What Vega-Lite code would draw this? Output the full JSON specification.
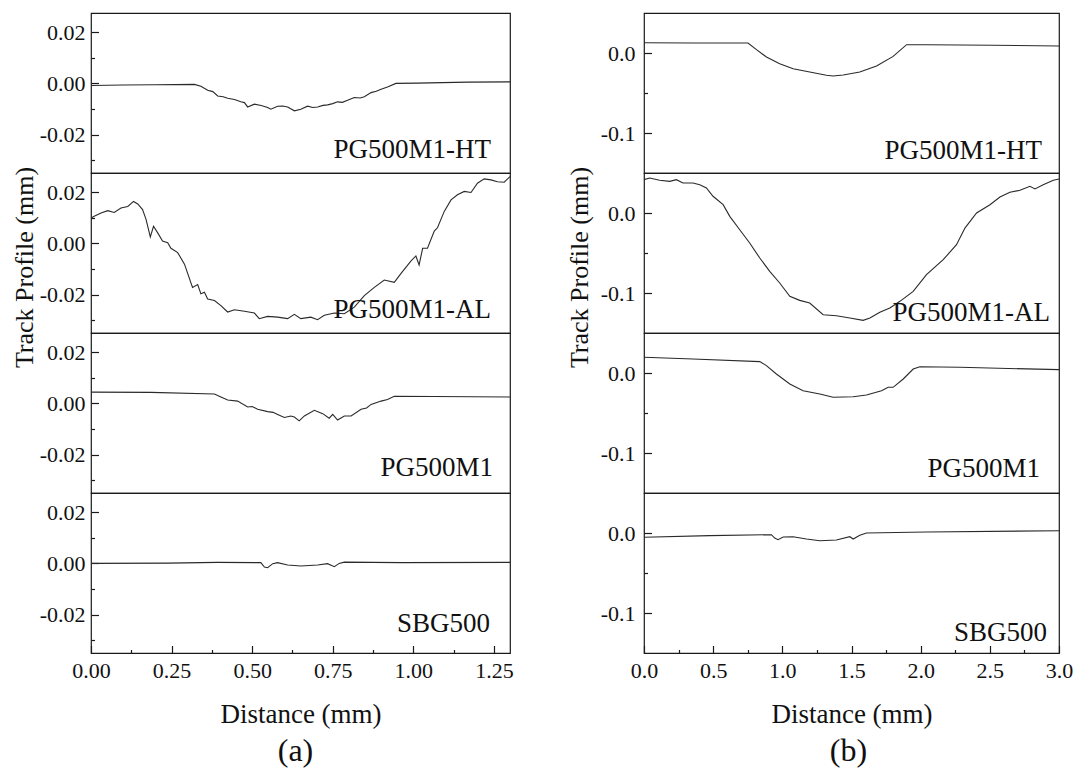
{
  "$schema": "https://vega.github.io/schema/vega-lite/v6.json",
  "padding": {"left": 10, "top": 12, "right": 5, "bottom": 2},
  "config": {
    "font": "Liberation Serif",
    "view": {"stroke": "#1a1a1a", "strokeWidth": 1.2},
    "axis": {"grid": false, "domain": false, "tickCount": 40, "labelFont": "Liberation Serif", "titleFont": "Liberation Serif", "labelFontSize": 22, "titleFontSize": 26, "titleFontWeight": "normal", "labelColor": "#111", "titleColor": "#111", "tickColor": "#1a1a1a", "tickWidth": 1.2, "labelOverlap": false, "labelFlush": false, "labelBound": false},
    "text": {"font": "Liberation Serif"},
    "title": {"font": "Liberation Serif", "fontWeight": "normal", "color": "#111"}
  },
  "datasets": {
    "a": [
      {"s":"PG500M1-HT","x":0,"y":-0.0008},{"s":"PG500M1-HT","x":0.1,"y":-0.0006},{"s":"PG500M1-HT","x":0.2,"y":-0.0005},{"s":"PG500M1-HT","x":0.321,"y":-0.0004},{"s":"PG500M1-HT","x":0.341,"y":-0.0011},{"s":"PG500M1-HT","x":0.362,"y":-0.0027},{"s":"PG500M1-HT","x":0.378,"y":-0.0032},{"s":"PG500M1-HT","x":0.393,"y":-0.0049},{"s":"PG500M1-HT","x":0.41,"y":-0.0052},{"s":"PG500M1-HT","x":0.424,"y":-0.0058},{"s":"PG500M1-HT","x":0.445,"y":-0.0063},{"s":"PG500M1-HT","x":0.465,"y":-0.0072},{"s":"PG500M1-HT","x":0.476,"y":-0.0075},{"s":"PG500M1-HT","x":0.486,"y":-0.0092},{"s":"PG500M1-HT","x":0.507,"y":-0.0081},{"s":"PG500M1-HT","x":0.528,"y":-0.0086},{"s":"PG500M1-HT","x":0.548,"y":-0.0094},{"s":"PG500M1-HT","x":0.558,"y":-0.0101},{"s":"PG500M1-HT","x":0.579,"y":-0.0089},{"s":"PG500M1-HT","x":0.595,"y":-0.0088},{"s":"PG500M1-HT","x":0.61,"y":-0.0092},{"s":"PG500M1-HT","x":0.631,"y":-0.0107},{"s":"PG500M1-HT","x":0.651,"y":-0.0101},{"s":"PG500M1-HT","x":0.672,"y":-0.0089},{"s":"PG500M1-HT","x":0.688,"y":-0.0094},{"s":"PG500M1-HT","x":0.703,"y":-0.0092},{"s":"PG500M1-HT","x":0.72,"y":-0.0086},{"s":"PG500M1-HT","x":0.734,"y":-0.0084},{"s":"PG500M1-HT","x":0.75,"y":-0.0079},{"s":"PG500M1-HT","x":0.765,"y":-0.0072},{"s":"PG500M1-HT","x":0.78,"y":-0.0074},{"s":"PG500M1-HT","x":0.796,"y":-0.0066},{"s":"PG500M1-HT","x":0.817,"y":-0.0055},{"s":"PG500M1-HT","x":0.835,"y":-0.0057},{"s":"PG500M1-HT","x":0.848,"y":-0.0052},{"s":"PG500M1-HT","x":0.869,"y":-0.0036},{"s":"PG500M1-HT","x":0.885,"y":-0.0031},{"s":"PG500M1-HT","x":0.9,"y":-0.0023},{"s":"PG500M1-HT","x":0.92,"y":-0.0014},{"s":"PG500M1-HT","x":0.946,"y":0.0},{"s":"PG500M1-HT","x":1.013,"y":0.0001},{"s":"PG500M1-HT","x":1.168,"y":0.0005},{"s":"PG500M1-HT","x":1.3,"y":0.0006},
      {"s":"PG500M1-AL","x":0,"y":0.0099},{"s":"PG500M1-AL","x":0.01,"y":0.0106},{"s":"PG500M1-AL","x":0.031,"y":0.0119},{"s":"PG500M1-AL","x":0.052,"y":0.0128},{"s":"PG500M1-AL","x":0.072,"y":0.0121},{"s":"PG500M1-AL","x":0.093,"y":0.0138},{"s":"PG500M1-AL","x":0.114,"y":0.0144},{"s":"PG500M1-AL","x":0.132,"y":0.0164},{"s":"PG500M1-AL","x":0.145,"y":0.0154},{"s":"PG500M1-AL","x":0.16,"y":0.0132},{"s":"PG500M1-AL","x":0.171,"y":0.0093},{"s":"PG500M1-AL","x":0.184,"y":0.0025},{"s":"PG500M1-AL","x":0.194,"y":0.0067},{"s":"PG500M1-AL","x":0.207,"y":0.0041},{"s":"PG500M1-AL","x":0.222,"y":0.0009},{"s":"PG500M1-AL","x":0.238,"y":0.0003},{"s":"PG500M1-AL","x":0.248,"y":-0.0019},{"s":"PG500M1-AL","x":0.269,"y":-0.0036},{"s":"PG500M1-AL","x":0.29,"y":-0.0081},{"s":"PG500M1-AL","x":0.315,"y":-0.0172},{"s":"PG500M1-AL","x":0.331,"y":-0.0161},{"s":"PG500M1-AL","x":0.341,"y":-0.0197},{"s":"PG500M1-AL","x":0.352,"y":-0.0191},{"s":"PG500M1-AL","x":0.362,"y":-0.0217},{"s":"PG500M1-AL","x":0.383,"y":-0.0223},{"s":"PG500M1-AL","x":0.403,"y":-0.0243},{"s":"PG500M1-AL","x":0.424,"y":-0.0268},{"s":"PG500M1-AL","x":0.445,"y":-0.0259},{"s":"PG500M1-AL","x":0.476,"y":-0.0265},{"s":"PG500M1-AL","x":0.507,"y":-0.0272},{"s":"PG500M1-AL","x":0.522,"y":-0.0294},{"s":"PG500M1-AL","x":0.548,"y":-0.0285},{"s":"PG500M1-AL","x":0.579,"y":-0.0288},{"s":"PG500M1-AL","x":0.61,"y":-0.0294},{"s":"PG500M1-AL","x":0.631,"y":-0.0277},{"s":"PG500M1-AL","x":0.651,"y":-0.0294},{"s":"PG500M1-AL","x":0.682,"y":-0.0288},{"s":"PG500M1-AL","x":0.703,"y":-0.0298},{"s":"PG500M1-AL","x":0.724,"y":-0.0281},{"s":"PG500M1-AL","x":0.755,"y":-0.0272},{"s":"PG500M1-AL","x":0.786,"y":-0.0275},{"s":"PG500M1-AL","x":0.817,"y":-0.0249},{"s":"PG500M1-AL","x":0.848,"y":-0.0204},{"s":"PG500M1-AL","x":0.879,"y":-0.0172},{"s":"PG500M1-AL","x":0.91,"y":-0.0143},{"s":"PG500M1-AL","x":0.941,"y":-0.0152},{"s":"PG500M1-AL","x":0.962,"y":-0.0117},{"s":"PG500M1-AL","x":0.993,"y":-0.0068},{"s":"PG500M1-AL","x":1.008,"y":-0.0049},{"s":"PG500M1-AL","x":1.018,"y":-0.0084},{"s":"PG500M1-AL","x":1.029,"y":-0.0019},{"s":"PG500M1-AL","x":1.044,"y":-0.0019},{"s":"PG500M1-AL","x":1.065,"y":0.0048},{"s":"PG500M1-AL","x":1.075,"y":0.0061},{"s":"PG500M1-AL","x":1.096,"y":0.0125},{"s":"PG500M1-AL","x":1.117,"y":0.017},{"s":"PG500M1-AL","x":1.137,"y":0.019},{"s":"PG500M1-AL","x":1.158,"y":0.0203},{"s":"PG500M1-AL","x":1.179,"y":0.0199},{"s":"PG500M1-AL","x":1.199,"y":0.0235},{"s":"PG500M1-AL","x":1.22,"y":0.0252},{"s":"PG500M1-AL","x":1.241,"y":0.0248},{"s":"PG500M1-AL","x":1.261,"y":0.0241},{"s":"PG500M1-AL","x":1.282,"y":0.0239},{"s":"PG500M1-AL","x":1.3,"y":0.0261},
      {"s":"PG500M1","x":0,"y":0.0044},{"s":"PG500M1","x":0.186,"y":0.0043},{"s":"PG500M1","x":0.383,"y":0.0037},{"s":"PG500M1","x":0.403,"y":0.0025},{"s":"PG500M1","x":0.424,"y":0.0013},{"s":"PG500M1","x":0.455,"y":0.0009},{"s":"PG500M1","x":0.486,"y":-0.0014},{"s":"PG500M1","x":0.5,"y":-0.0012},{"s":"PG500M1","x":0.517,"y":-0.0023},{"s":"PG500M1","x":0.548,"y":-0.0032},{"s":"PG500M1","x":0.565,"y":-0.0035},{"s":"PG500M1","x":0.579,"y":-0.0043},{"s":"PG500M1","x":0.6,"y":-0.0055},{"s":"PG500M1","x":0.62,"y":-0.0049},{"s":"PG500M1","x":0.631,"y":-0.0053},{"s":"PG500M1","x":0.646,"y":-0.0068},{"s":"PG500M1","x":0.662,"y":-0.0049},{"s":"PG500M1","x":0.693,"y":-0.0027},{"s":"PG500M1","x":0.719,"y":-0.004},{"s":"PG500M1","x":0.739,"y":-0.0058},{"s":"PG500M1","x":0.75,"y":-0.0043},{"s":"PG500M1","x":0.765,"y":-0.0065},{"s":"PG500M1","x":0.786,"y":-0.0049},{"s":"PG500M1","x":0.807,"y":-0.0049},{"s":"PG500M1","x":0.838,"y":-0.0023},{"s":"PG500M1","x":0.855,"y":-0.0018},{"s":"PG500M1","x":0.869,"y":-0.0004},{"s":"PG500M1","x":0.9,"y":0.0009},{"s":"PG500M1","x":0.92,"y":0.0015},{"s":"PG500M1","x":0.941,"y":0.0028},{"s":"PG500M1","x":1.065,"y":0.0027},{"s":"PG500M1","x":1.3,"y":0.0025},
      {"s":"SBG500","x":0,"y":0.0},{"s":"SBG500","x":0.238,"y":0.0001},{"s":"SBG500","x":0.393,"y":0.0004},{"s":"SBG500","x":0.527,"y":0.0003},{"s":"SBG500","x":0.538,"y":-0.0014},{"s":"SBG500","x":0.548,"y":-0.0017},{"s":"SBG500","x":0.564,"y":-0.0001},{"s":"SBG500","x":0.579,"y":0.0003},{"s":"SBG500","x":0.61,"y":-0.0006},{"s":"SBG500","x":0.651,"y":-0.001},{"s":"SBG500","x":0.703,"y":-0.0006},{"s":"SBG500","x":0.734,"y":-0.0001},{"s":"SBG500","x":0.755,"y":-0.0013},{"s":"SBG500","x":0.77,"y":0.0},{"s":"SBG500","x":0.786,"y":0.0005},{"s":"SBG500","x":0.962,"y":0.0003},{"s":"SBG500","x":1.3,"y":0.0004}
    ],
    "b": [
      {"s":"PG500M1-HT","x":0,"y":0.0129},{"s":"PG500M1-HT","x":0.354,"y":0.0125},{"s":"PG500M1-HT","x":0.752,"y":0.0125},{"s":"PG500M1-HT","x":0.813,"y":0.0042},{"s":"PG500M1-HT","x":0.885,"y":-0.005},{"s":"PG500M1-HT","x":0.981,"y":-0.0133},{"s":"PG500M1-HT","x":1.078,"y":-0.0196},{"s":"PG500M1-HT","x":1.198,"y":-0.0238},{"s":"PG500M1-HT","x":1.319,"y":-0.0279},{"s":"PG500M1-HT","x":1.367,"y":-0.0288},{"s":"PG500M1-HT","x":1.44,"y":-0.0275},{"s":"PG500M1-HT","x":1.56,"y":-0.0238},{"s":"PG500M1-HT","x":1.681,"y":-0.0163},{"s":"PG500M1-HT","x":1.801,"y":-0.0042},{"s":"PG500M1-HT","x":1.898,"y":0.0104},{"s":"PG500M1-HT","x":2.042,"y":0.0104},{"s":"PG500M1-HT","x":2.525,"y":0.0096},{"s":"PG500M1-HT","x":3.0,"y":0.0088},
      {"s":"PG500M1-AL","x":0,"y":0.0417},{"s":"PG500M1-AL","x":0.041,"y":0.0438},{"s":"PG500M1-AL","x":0.113,"y":0.0409},{"s":"PG500M1-AL","x":0.186,"y":0.0396},{"s":"PG500M1-AL","x":0.234,"y":0.0417},{"s":"PG500M1-AL","x":0.282,"y":0.0375},{"s":"PG500M1-AL","x":0.354,"y":0.0375},{"s":"PG500M1-AL","x":0.403,"y":0.0354},{"s":"PG500M1-AL","x":0.451,"y":0.0313},{"s":"PG500M1-AL","x":0.499,"y":0.0209},{"s":"PG500M1-AL","x":0.572,"y":0.0104},{"s":"PG500M1-AL","x":0.62,"y":-0.0042},{"s":"PG500M1-AL","x":0.692,"y":-0.0209},{"s":"PG500M1-AL","x":0.764,"y":-0.0375},{"s":"PG500M1-AL","x":0.837,"y":-0.0563},{"s":"PG500M1-AL","x":0.909,"y":-0.0729},{"s":"PG500M1-AL","x":0.981,"y":-0.0875},{"s":"PG500M1-AL","x":1.054,"y":-0.1042},{"s":"PG500M1-AL","x":1.126,"y":-0.1092},{"s":"PG500M1-AL","x":1.198,"y":-0.1125},{"s":"PG500M1-AL","x":1.295,"y":-0.1271},{"s":"PG500M1-AL","x":1.391,"y":-0.1284},{"s":"PG500M1-AL","x":1.488,"y":-0.1313},{"s":"PG500M1-AL","x":1.584,"y":-0.1342},{"s":"PG500M1-AL","x":1.633,"y":-0.1313},{"s":"PG500M1-AL","x":1.705,"y":-0.1242},{"s":"PG500M1-AL","x":1.777,"y":-0.1188},{"s":"PG500M1-AL","x":1.85,"y":-0.1104},{"s":"PG500M1-AL","x":1.946,"y":-0.0979},{"s":"PG500M1-AL","x":2.042,"y":-0.0771},{"s":"PG500M1-AL","x":2.163,"y":-0.0584},{"s":"PG500M1-AL","x":2.259,"y":-0.0396},{"s":"PG500M1-AL","x":2.32,"y":-0.0188},{"s":"PG500M1-AL","x":2.404,"y":0.0},{"s":"PG500M1-AL","x":2.501,"y":0.0104},{"s":"PG500M1-AL","x":2.573,"y":0.02},{"s":"PG500M1-AL","x":2.645,"y":0.0259},{"s":"PG500M1-AL","x":2.718,"y":0.0284},{"s":"PG500M1-AL","x":2.79,"y":0.0334},{"s":"PG500M1-AL","x":2.826,"y":0.03},{"s":"PG500M1-AL","x":2.886,"y":0.0354},{"s":"PG500M1-AL","x":2.959,"y":0.0409},{"s":"PG500M1-AL","x":3.0,"y":0.0425},
      {"s":"PG500M1","x":0,"y":0.0196},{"s":"PG500M1","x":0.354,"y":0.0175},{"s":"PG500M1","x":0.837,"y":0.0142},{"s":"PG500M1","x":0.885,"y":0.0092},{"s":"PG500M1","x":0.957,"y":-0.0013},{"s":"PG500M1","x":1.054,"y":-0.0138},{"s":"PG500M1","x":1.15,"y":-0.0221},{"s":"PG500M1","x":1.271,"y":-0.0263},{"s":"PG500M1","x":1.367,"y":-0.0304},{"s":"PG500M1","x":1.512,"y":-0.0296},{"s":"PG500M1","x":1.608,"y":-0.0275},{"s":"PG500M1","x":1.717,"y":-0.0221},{"s":"PG500M1","x":1.765,"y":-0.0179},{"s":"PG500M1","x":1.801,"y":-0.0179},{"s":"PG500M1","x":1.874,"y":-0.0075},{"s":"PG500M1","x":1.946,"y":0.005},{"s":"PG500M1","x":1.994,"y":0.0079},{"s":"PG500M1","x":2.284,"y":0.0071},{"s":"PG500M1","x":3.0,"y":0.0042},
      {"s":"SBG500","x":0,"y":-0.0054},{"s":"SBG500","x":0.475,"y":-0.0033},{"s":"SBG500","x":0.921,"y":-0.0021},{"s":"SBG500","x":0.945,"y":-0.0063},{"s":"SBG500","x":0.969,"y":-0.0083},{"s":"SBG500","x":1.006,"y":-0.005},{"s":"SBG500","x":1.078,"y":-0.0046},{"s":"SBG500","x":1.174,"y":-0.0075},{"s":"SBG500","x":1.271,"y":-0.0096},{"s":"SBG500","x":1.391,"y":-0.0088},{"s":"SBG500","x":1.488,"y":-0.0046},{"s":"SBG500","x":1.512,"y":-0.0075},{"s":"SBG500","x":1.56,"y":-0.0029},{"s":"SBG500","x":1.608,"y":0.0},{"s":"SBG500","x":2.042,"y":0.0013},{"s":"SBG500","x":3.0,"y":0.0029}
    ]
  },
  "spacing": 51,
  "hconcat": [
    {
      "spacing": 0,
      "bounds": "flush",
      "resolve": {"scale": {"x": "independent", "y": "independent"}},
      "vconcat": [
        {
          "width": 419, "height": 160,
          "data": {"name": "a"},
          "transform": [{"filter": "datum.s === 'PG500M1-HT'"}],
          "layer": [
            {"mark": {"type": "line", "stroke": "#2a2a2a", "strokeWidth": 1.1},
             "encoding": {
               "x": {"field": "x", "type": "quantitative", "scale": {"domain": [0, 1.3], "nice": false, "zero": false}, "axis": null},
               "y": {"field": "y", "type": "quantitative", "scale": {"domain": [-0.035, 0.0275], "nice": false, "zero": false},
                     "axis": {"title": null, "tickCount": 40, "labelOverlap": false, "values": [-0.03,-0.02,-0.01,0,0.01,0.02], "labelExpr": "abs(datum.value*50 - round(datum.value*50)) < 0.1 ? (datum.value < 0 ? '-' + format(-datum.value, '.2f') : format(datum.value, '.2f')) : ''", "tickSize": {"condition": {"test": "abs(datum.value*50 - round(datum.value*50)) < 0.1", "value": -7.5}, "value": -3.5}, "labelPadding": 13.5}}
             }},
            {"transform": [{"aggregate": [{"op": "count", "as": "n"}], "groupby": ["s"]}],
             "mark": {"type": "text", "align": "right", "baseline": "alphabetic", "fontSize": 27, "color": "#111"},
             "encoding": {"x": {"datum": 1.241}, "y": {"datum": -0.0291}, "text": {"field": "s"}}}
          ]
        },
        {
          "width": 419, "height": 160,
          "data": {"name": "a"},
          "transform": [{"filter": "datum.s === 'PG500M1-AL'"}],
          "layer": [
            {"mark": {"type": "line", "stroke": "#2a2a2a", "strokeWidth": 1.1},
             "encoding": {
               "x": {"field": "x", "type": "quantitative", "scale": {"domain": [0, 1.3], "nice": false, "zero": false}, "axis": null},
               "y": {"field": "y", "type": "quantitative", "scale": {"domain": [-0.035, 0.0275], "nice": false, "zero": false},
                     "axis": {"title": "Track Profile (mm)", "titleY": 94, "titlePadding": 2, "tickCount": 40, "labelOverlap": false, "values": [-0.03,-0.02,-0.01,0,0.01,0.02], "labelExpr": "abs(datum.value*50 - round(datum.value*50)) < 0.1 ? (datum.value < 0 ? '-' + format(-datum.value, '.2f') : format(datum.value, '.2f')) : ''", "tickSize": {"condition": {"test": "abs(datum.value*50 - round(datum.value*50)) < 0.1", "value": -7.5}, "value": -3.5}, "labelPadding": 13.5}}
             }},
            {"transform": [{"aggregate": [{"op": "count", "as": "n"}], "groupby": ["s"]}],
             "mark": {"type": "text", "align": "right", "baseline": "alphabetic", "fontSize": 27, "color": "#111"},
             "encoding": {"x": {"datum": 1.241}, "y": {"datum": -0.0291}, "text": {"field": "s"}}}
          ]
        },
        {
          "width": 419, "height": 160,
          "data": {"name": "a"},
          "transform": [{"filter": "datum.s === 'PG500M1'"}],
          "layer": [
            {"mark": {"type": "line", "stroke": "#2a2a2a", "strokeWidth": 1.1},
             "encoding": {
               "x": {"field": "x", "type": "quantitative", "scale": {"domain": [0, 1.3], "nice": false, "zero": false}, "axis": null},
               "y": {"field": "y", "type": "quantitative", "scale": {"domain": [-0.035, 0.0275], "nice": false, "zero": false},
                     "axis": {"title": null, "tickCount": 40, "labelOverlap": false, "values": [-0.03,-0.02,-0.01,0,0.01,0.02], "labelExpr": "abs(datum.value*50 - round(datum.value*50)) < 0.1 ? (datum.value < 0 ? '-' + format(-datum.value, '.2f') : format(datum.value, '.2f')) : ''", "tickSize": {"condition": {"test": "abs(datum.value*50 - round(datum.value*50)) < 0.1", "value": -7.5}, "value": -3.5}, "labelPadding": 13.5}}
             }},
            {"transform": [{"aggregate": [{"op": "count", "as": "n"}], "groupby": ["s"]}],
             "mark": {"type": "text", "align": "right", "baseline": "alphabetic", "fontSize": 27, "color": "#111"},
             "encoding": {"x": {"datum": 1.247}, "y": {"datum": -0.0284}, "text": {"field": "s"}}}
          ]
        },
        {
          "width": 419, "height": 160,
          "data": {"name": "a"},
          "transform": [{"filter": "datum.s === 'SBG500'"}],
          "title": {"text": "(a)", "orient": "bottom", "fontSize": 32, "offset": 8, "frame": "group", "anchor": "middle", "dx": -5},
          "layer": [
            {"mark": {"type": "line", "stroke": "#2a2a2a", "strokeWidth": 1.1},
             "encoding": {
               "x": {"field": "x", "type": "quantitative", "scale": {"domain": [0, 1.3], "nice": false, "zero": false},
                     "axis": {"title": "Distance (mm)", "titleFontSize": 27, "titlePadding": 16, "tickCount": 40, "labelOverlap": false, "values": [0,0.125,0.25,0.375,0.5,0.625,0.75,0.875,1,1.125,1.25], "labelExpr": "round(datum.value*8) % 2 === 0 ? format(datum.value, '.2f') : ''", "tickSize": {"condition": {"test": "round(datum.value*8) % 2 === 0", "value": -7.5}, "value": -3.5}, "labelPadding": 15}},
               "y": {"field": "y", "type": "quantitative", "scale": {"domain": [-0.035, 0.0275], "nice": false, "zero": false},
                     "axis": {"title": null, "tickCount": 40, "labelOverlap": false, "values": [-0.03,-0.02,-0.01,0,0.01,0.02], "labelExpr": "abs(datum.value*50 - round(datum.value*50)) < 0.1 ? (datum.value < 0 ? '-' + format(-datum.value, '.2f') : format(datum.value, '.2f')) : ''", "tickSize": {"condition": {"test": "abs(datum.value*50 - round(datum.value*50)) < 0.1", "value": -7.5}, "value": -3.5}, "labelPadding": 13.5}}
             }},
            {"transform": [{"aggregate": [{"op": "count", "as": "n"}], "groupby": ["s"]}],
             "mark": {"type": "text", "align": "right", "baseline": "alphabetic", "fontSize": 27, "color": "#111"},
             "encoding": {"x": {"datum": 1.238}, "y": {"datum": -0.0268}, "text": {"field": "s"}}}
          ]
        }
      ]
    },
    {
      "spacing": 0,
      "bounds": "flush",
      "resolve": {"scale": {"x": "independent", "y": "independent"}},
      "vconcat": [
        {
          "width": 415, "height": 160,
          "data": {"name": "b"},
          "transform": [{"filter": "datum.s === 'PG500M1-HT'"}],
          "layer": [
            {"mark": {"type": "line", "stroke": "#2a2a2a", "strokeWidth": 1.1},
             "encoding": {
               "x": {"field": "x", "type": "quantitative", "scale": {"domain": [0, 3], "nice": false, "zero": false}, "axis": null},
               "y": {"field": "y", "type": "quantitative", "scale": {"domain": [-0.15, 0.05], "nice": false, "zero": false},
                     "axis": {"title": null, "tickCount": 40, "labelOverlap": false, "values": [-0.1,-0.05,0], "labelExpr": "round(datum.value*20) % 2 === 0 ? (datum.value < 0 ? '-' + format(-datum.value, '.1f') : format(datum.value, '.1f')) : ''", "tickSize": {"condition": {"test": "round(datum.value*20) % 2 === 0", "value": -7.5}, "value": -3.5}, "labelPadding": 16.5}}
             }},
            {"transform": [{"aggregate": [{"op": "count", "as": "n"}], "groupby": ["s"]}],
             "mark": {"type": "text", "align": "right", "baseline": "alphabetic", "fontSize": 27, "color": "#111"},
             "encoding": {"x": {"datum": 2.877}, "y": {"datum": -0.133}, "text": {"field": "s"}}}
          ]
        },
        {
          "width": 415, "height": 160,
          "data": {"name": "b"},
          "transform": [{"filter": "datum.s === 'PG500M1-AL'"}],
          "layer": [
            {"mark": {"type": "line", "stroke": "#2a2a2a", "strokeWidth": 1.1},
             "encoding": {
               "x": {"field": "x", "type": "quantitative", "scale": {"domain": [0, 3], "nice": false, "zero": false}, "axis": null},
               "y": {"field": "y", "type": "quantitative", "scale": {"domain": [-0.15, 0.05], "nice": false, "zero": false},
                     "axis": {"title": "Track Profile (mm)", "titleY": 94, "titlePadding": 8, "tickCount": 40, "labelOverlap": false, "values": [-0.1,-0.05,0], "labelExpr": "round(datum.value*20) % 2 === 0 ? (datum.value < 0 ? '-' + format(-datum.value, '.1f') : format(datum.value, '.1f')) : ''", "tickSize": {"condition": {"test": "round(datum.value*20) % 2 === 0", "value": -7.5}, "value": -3.5}, "labelPadding": 16.5}}
             }},
            {"transform": [{"aggregate": [{"op": "count", "as": "n"}], "groupby": ["s"]}],
             "mark": {"type": "text", "align": "right", "baseline": "alphabetic", "fontSize": 27, "color": "#111"},
             "encoding": {"x": {"datum": 2.935}, "y": {"datum": -0.135}, "text": {"field": "s"}}}
          ]
        },
        {
          "width": 415, "height": 160,
          "data": {"name": "b"},
          "transform": [{"filter": "datum.s === 'PG500M1'"}],
          "layer": [
            {"mark": {"type": "line", "stroke": "#2a2a2a", "strokeWidth": 1.1},
             "encoding": {
               "x": {"field": "x", "type": "quantitative", "scale": {"domain": [0, 3], "nice": false, "zero": false}, "axis": null},
               "y": {"field": "y", "type": "quantitative", "scale": {"domain": [-0.15, 0.05], "nice": false, "zero": false},
                     "axis": {"title": null, "tickCount": 40, "labelOverlap": false, "values": [-0.1,-0.05,0], "labelExpr": "round(datum.value*20) % 2 === 0 ? (datum.value < 0 ? '-' + format(-datum.value, '.1f') : format(datum.value, '.1f')) : ''", "tickSize": {"condition": {"test": "round(datum.value*20) % 2 === 0", "value": -7.5}, "value": -3.5}, "labelPadding": 16.5}}
             }},
            {"transform": [{"aggregate": [{"op": "count", "as": "n"}], "groupby": ["s"]}],
             "mark": {"type": "text", "align": "right", "baseline": "alphabetic", "fontSize": 27, "color": "#111"},
             "encoding": {"x": {"datum": 2.863}, "y": {"datum": -0.13}, "text": {"field": "s"}}}
          ]
        },
        {
          "width": 415, "height": 160,
          "data": {"name": "b"},
          "transform": [{"filter": "datum.s === 'SBG500'"}],
          "title": {"text": "(b)", "orient": "bottom", "fontSize": 32, "offset": 8, "frame": "group", "anchor": "middle", "dx": -3},
          "layer": [
            {"mark": {"type": "line", "stroke": "#2a2a2a", "strokeWidth": 1.1},
             "encoding": {
               "x": {"field": "x", "type": "quantitative", "scale": {"domain": [0, 3], "nice": false, "zero": false},
                     "axis": {"title": "Distance (mm)", "titleFontSize": 27, "titlePadding": 16, "tickCount": 40, "labelOverlap": false, "values": [0,0.25,0.5,0.75,1,1.25,1.5,1.75,2,2.25,2.5,2.75,3], "labelExpr": "round(datum.value*4) % 2 === 0 ? format(datum.value, '.1f') : ''", "tickSize": {"condition": {"test": "round(datum.value*4) % 2 === 0", "value": -7.5}, "value": -3.5}, "labelPadding": 15}},
               "y": {"field": "y", "type": "quantitative", "scale": {"domain": [-0.15, 0.05], "nice": false, "zero": false},
                     "axis": {"title": null, "tickCount": 40, "labelOverlap": false, "values": [-0.1,-0.05,0], "labelExpr": "round(datum.value*20) % 2 === 0 ? (datum.value < 0 ? '-' + format(-datum.value, '.1f') : format(datum.value, '.1f')) : ''", "tickSize": {"condition": {"test": "round(datum.value*20) % 2 === 0", "value": -7.5}, "value": -3.5}, "labelPadding": 16.5}}
             }},
            {"transform": [{"aggregate": [{"op": "count", "as": "n"}], "groupby": ["s"]}],
             "mark": {"type": "text", "align": "right", "baseline": "alphabetic", "fontSize": 27, "color": "#111"},
             "encoding": {"x": {"datum": 2.913}, "y": {"datum": -0.135}, "text": {"field": "s"}}}
          ]
        }
      ]
    }
  ]
}
